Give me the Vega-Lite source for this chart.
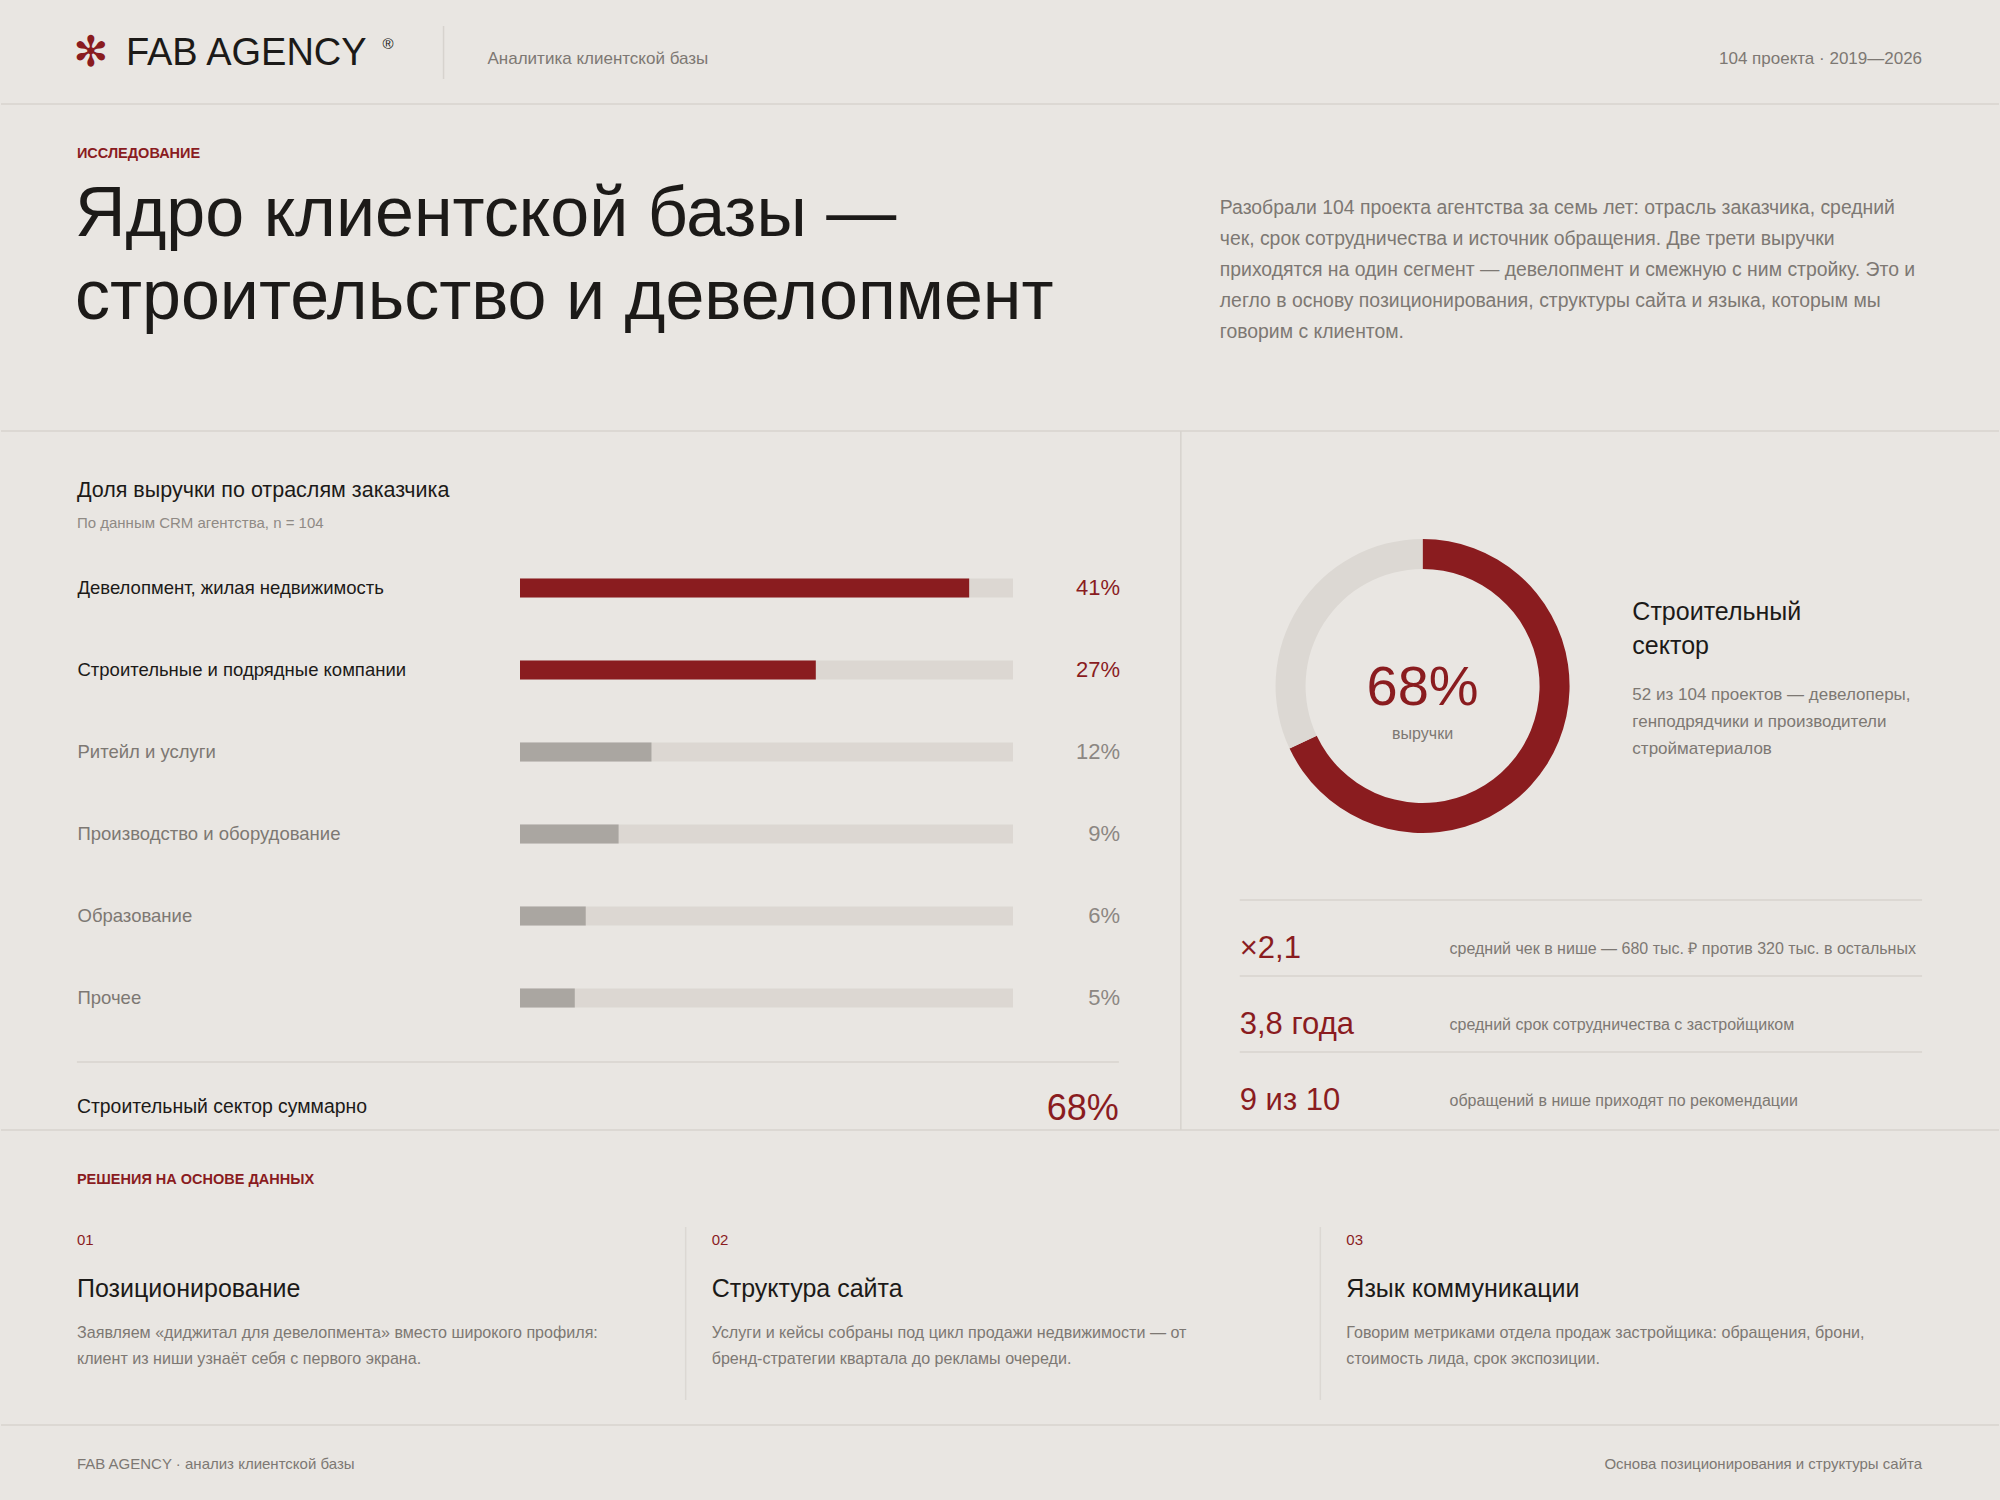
{
  "$schema": "https://vega.github.io/schema/vega-lite/v6.json",
  "width": 2000,
  "height": 1500,
  "autosize": {"type": "fit", "contains": "padding"},
  "padding": 0,
  "background": "#e9e6e2",
  "config": {
    "view": {"stroke": null},
    "font": "Liberation Sans",
    "text": {"font": "Liberation Sans"}
  },
  "resolve": {"scale": {"x": "independent", "y": "independent", "color": "independent", "theta": "independent"}},
  "layer": [
    {
      "layer": [
        {"data": {"values": [{"line": "header"}]}, "mark": {"type": "rule", "color": "#d7d3ce", "strokeWidth": 1.5},
         "encoding": {"x": {"datum": 0, "scale": {"domain": [0, 2000], "nice": false, "zero": false}, "axis": null}, "x2": {"datum": 2000}, "y": {"datum": 104, "scale": {"domain": [0, 1500], "nice": false, "zero": false, "reverse": true}, "axis": null}}},
        {"data": {"values": [{"line": "header divider"}]}, "mark": {"type": "rule", "color": "#d7d3ce", "strokeWidth": 1.5},
         "encoding": {"x": {"datum": 443, "axis": null}, "y": {"datum": 26, "axis": null}, "y2": {"datum": 79}}},
        {"data": {"values": [{"line": "intro"}]}, "mark": {"type": "rule", "color": "#d7d3ce", "strokeWidth": 1.5},
         "encoding": {"x": {"datum": 0, "axis": null}, "x2": {"datum": 2000}, "y": {"datum": 431, "axis": null}}},
        {"data": {"values": [{"line": "middle divider"}]}, "mark": {"type": "rule", "color": "#d7d3ce", "strokeWidth": 1.5},
         "encoding": {"x": {"datum": 1181, "axis": null}, "y": {"datum": 431, "axis": null}, "y2": {"datum": 1130}}},
        {"data": {"values": [{"line": "bars total"}]}, "mark": {"type": "rule", "color": "#d7d3ce", "strokeWidth": 1.5},
         "encoding": {"x": {"datum": 76, "axis": null}, "x2": {"datum": 1119}, "y": {"datum": 1062, "axis": null}}},
        {"data": {"values": [{"line": "middle bottom"}]}, "mark": {"type": "rule", "color": "#d7d3ce", "strokeWidth": 1.5},
         "encoding": {"x": {"datum": 0, "axis": null}, "x2": {"datum": 2000}, "y": {"datum": 1130, "axis": null}}},
        {"data": {"values": [{"line": "footer"}]}, "mark": {"type": "rule", "color": "#d7d3ce", "strokeWidth": 1.5},
         "encoding": {"x": {"datum": 0, "axis": null}, "x2": {"datum": 2000}, "y": {"datum": 1425, "axis": null}}},

        {"data": {"values": [{"t": "✻"}]}, "mark": {"type": "text", "align": "center", "baseline": "middle", "fontSize": 42, "font": "DejaVu Sans", "color": "#8a1c1f"},
         "encoding": {"text": {"field": "t"}, "x": {"datum": 90, "axis": null}, "y": {"datum": 53, "axis": null}}},
        {"data": {"values": [{"t": "FAB AGENCY"}]}, "mark": {"type": "text", "align": "left", "baseline": "alphabetic", "fontSize": 38, "color": "#1c1a18"},
         "encoding": {"text": {"field": "t"}, "x": {"datum": 125, "axis": null}, "y": {"datum": 65, "axis": null}}},
        {"data": {"values": [{"t": "®"}]}, "mark": {"type": "text", "align": "left", "baseline": "alphabetic", "fontSize": 15, "color": "#1c1a18"},
         "encoding": {"text": {"field": "t"}, "x": {"datum": 382, "axis": null}, "y": {"datum": 49, "axis": null}}},
        {"data": {"values": [{"t": "Аналитика клиентской базы"}]}, "mark": {"type": "text", "align": "left", "baseline": "alphabetic", "fontSize": 17, "color": "#7d7873"},
         "encoding": {"text": {"field": "t"}, "x": {"datum": 487, "axis": null}, "y": {"datum": 64, "axis": null}}},
        {"data": {"values": [{"t": "104 проекта · 2019—2026"}]}, "mark": {"type": "text", "align": "right", "baseline": "alphabetic", "fontSize": 17, "color": "#7d7873"},
         "encoding": {"text": {"field": "t"}, "x": {"datum": 1923, "axis": null}, "y": {"datum": 64, "axis": null}}},

        {"data": {"values": [{"t": "ИССЛЕДОВАНИЕ"}]}, "mark": {"type": "text", "align": "left", "baseline": "alphabetic", "fontSize": 14.5, "fontWeight": "bold", "color": "#8a1c1f"},
         "encoding": {"text": {"field": "t"}, "x": {"datum": 76, "axis": null}, "y": {"datum": 158, "axis": null}}},
        {"data": {"values": [{"t": "Ядро клиентской базы —\nстроительство и девелопмент"}]}, "mark": {"type": "text", "align": "left", "baseline": "alphabetic", "fontSize": 70, "lineHeight": 83, "lineBreak": "\n", "color": "#1c1a18"},
         "encoding": {"text": {"field": "t"}, "x": {"datum": 74, "axis": null}, "y": {"datum": 236, "axis": null}}},
        {"data": {"values": [{"t": "Разобрали 104 проекта агентства за семь лет: отрасль заказчика, средний\nчек, срок сотрудничества и источник обращения. Две трети выручки\nприходятся на один сегмент — девелопмент и смежную с ним стройку. Это и\nлегло в основу позиционирования, структуры сайта и языка, которым мы\nговорим с клиентом."}]},
         "mark": {"type": "text", "align": "left", "baseline": "alphabetic", "fontSize": 19.4, "lineHeight": 31, "lineBreak": "\n", "color": "#7d7873"},
         "encoding": {"text": {"field": "t"}, "x": {"datum": 1220, "axis": null}, "y": {"datum": 214, "axis": null}}},

        {"data": {"values": [{"t": "Доля выручки по отраслям заказчика"}]}, "mark": {"type": "text", "align": "left", "baseline": "alphabetic", "fontSize": 21.5, "color": "#1c1a18"},
         "encoding": {"text": {"field": "t"}, "x": {"datum": 76, "axis": null}, "y": {"datum": 497, "axis": null}}},
        {"data": {"values": [{"t": "По данным CRM агентства, n = 104"}]}, "mark": {"type": "text", "align": "left", "baseline": "alphabetic", "fontSize": 15, "color": "#8f8a85"},
         "encoding": {"text": {"field": "t"}, "x": {"datum": 76, "axis": null}, "y": {"datum": 528, "axis": null}}},
        {"data": {"values": [{"t": "Строительный сектор суммарно"}]}, "mark": {"type": "text", "align": "left", "baseline": "alphabetic", "fontSize": 19.4, "color": "#1c1a18"},
         "encoding": {"text": {"field": "t"}, "x": {"datum": 76, "axis": null}, "y": {"datum": 1113, "axis": null}}},
        {"data": {"values": [{"t": "68%"}]}, "mark": {"type": "text", "align": "right", "baseline": "alphabetic", "fontSize": 36, "color": "#8a1c1f"},
         "encoding": {"text": {"field": "t"}, "x": {"datum": 1119, "axis": null}, "y": {"datum": 1120, "axis": null}}},

        {"data": {"values": [{"part": "Строительный сектор", "share": 68}, {"part": "Остальные отрасли", "share": 32}]},
         "mark": {"type": "arc", "radius": 147, "radius2": 117, "stroke": null},
         "encoding": {
           "theta": {"field": "share", "type": "quantitative", "stack": true},
           "order": {"field": "share", "sort": "descending"},
           "color": {"field": "part", "type": "nominal", "scale": {"domain": ["Строительный сектор", "Остальные отрасли"], "range": ["#8a1c1f", "#dcd8d3"]}, "legend": null},
           "x": {"datum": 1423, "axis": null}, "y": {"datum": 686, "axis": null}}},
        {"data": {"values": [{"t": "68%"}]}, "mark": {"type": "text", "align": "center", "baseline": "alphabetic", "fontSize": 56, "color": "#8a1c1f"},
         "encoding": {"text": {"field": "t"}, "x": {"datum": 1423, "axis": null}, "y": {"datum": 705, "axis": null}}},
        {"data": {"values": [{"t": "выручки"}]}, "mark": {"type": "text", "align": "center", "baseline": "alphabetic", "fontSize": 16, "color": "#7d7873"},
         "encoding": {"text": {"field": "t"}, "x": {"datum": 1423, "axis": null}, "y": {"datum": 739, "axis": null}}},
        {"data": {"values": [{"t": "Строительный\nсектор"}]}, "mark": {"type": "text", "align": "left", "baseline": "alphabetic", "fontSize": 25, "lineHeight": 34, "lineBreak": "\n", "color": "#1c1a18"},
         "encoding": {"text": {"field": "t"}, "x": {"datum": 1633, "axis": null}, "y": {"datum": 620, "axis": null}}},
        {"data": {"values": [{"t": "52 из 104 проектов — девелоперы,\nгенподрядчики и производители\nстройматериалов"}]}, "mark": {"type": "text", "align": "left", "baseline": "alphabetic", "fontSize": 17, "lineHeight": 27, "lineBreak": "\n", "color": "#7d7873"},
         "encoding": {"text": {"field": "t"}, "x": {"datum": 1633, "axis": null}, "y": {"datum": 700, "axis": null}}},

        {"data": {"values": [{"t": "РЕШЕНИЯ НА ОСНОВЕ ДАННЫХ"}]}, "mark": {"type": "text", "align": "left", "baseline": "alphabetic", "fontSize": 14.5, "fontWeight": "bold", "color": "#8a1c1f"},
         "encoding": {"text": {"field": "t"}, "x": {"datum": 76, "axis": null}, "y": {"datum": 1184, "axis": null}}},
        {"data": {"values": [{"t": "FAB AGENCY · анализ клиентской базы"}]}, "mark": {"type": "text", "align": "left", "baseline": "alphabetic", "fontSize": 15, "color": "#7d7873"},
         "encoding": {"text": {"field": "t"}, "x": {"datum": 76, "axis": null}, "y": {"datum": 1469, "axis": null}}},
        {"data": {"values": [{"t": "Основа позиционирования и структуры сайта"}]}, "mark": {"type": "text", "align": "right", "baseline": "alphabetic", "fontSize": 15, "color": "#7d7873"},
         "encoding": {"text": {"field": "t"}, "x": {"datum": 1923, "axis": null}, "y": {"datum": 1469, "axis": null}}}
      ]
    },
    {
      "data": {"values": [
        {"industry": "Девелопмент, жилая недвижимость", "share": 0.41, "segment": "Строительный сектор"},
        {"industry": "Строительные и подрядные компании", "share": 0.27, "segment": "Строительный сектор"},
        {"industry": "Ритейл и услуги", "share": 0.12, "segment": "Другие отрасли"},
        {"industry": "Производство и оборудование", "share": 0.09, "segment": "Другие отрасли"},
        {"industry": "Образование", "share": 0.06, "segment": "Другие отрасли"},
        {"industry": "Прочее", "share": 0.05, "segment": "Другие отрасли"}
      ]},
      "layer": [
        {"mark": {"type": "bar", "size": 19, "color": "#dcd7d2"},
         "encoding": {
           "y": {"field": "industry", "type": "nominal", "sort": null,
                 "scale": {"range": [547, 1039], "paddingInner": 0, "paddingOuter": 0},
                 "axis": {"orient": "left", "offset": -76, "domain": false, "ticks": false, "tickSize": 0, "grid": false, "title": null,
                          "labelPadding": 0, "labelAlign": "left", "labelBaseline": "middle", "labelFontSize": 18.5, "labelFont": "Liberation Sans", "labelLimit": 0, "minExtent": 0,
                          "labelColor": {"condition": {"test": "datum.value === 'Девелопмент, жилая недвижимость' || datum.value === 'Строительные и подрядные компании'", "value": "#1c1a18"}, "value": "#7d7873"}}},
           "x": {"datum": 0, "type": "quantitative", "scale": {"domain": [0, 0.45], "range": [519, 1012], "nice": false, "zero": false}, "axis": null},
           "x2": {"datum": 0.45}}},
        {"mark": {"type": "bar", "size": 19},
         "encoding": {
           "y": {"field": "industry", "type": "nominal", "sort": null},
           "x": {"field": "share", "type": "quantitative", "axis": null},
           "x2": {"datum": 0},
           "color": {"field": "segment", "type": "nominal", "scale": {"domain": ["Строительный сектор", "Другие отрасли"], "range": ["#8a1c1f", "#aaa6a1"]}, "legend": null}}},
        {"mark": {"type": "text", "align": "right", "baseline": "middle", "dx": 107, "fontSize": 22},
         "encoding": {
           "y": {"field": "industry", "type": "nominal", "sort": null},
           "x": {"datum": 0.45, "axis": null},
           "text": {"field": "share", "type": "quantitative", "format": ".0%"},
           "color": {"condition": {"test": "datum.segment === 'Строительный сектор'", "value": "#8a1c1f"}, "value": "#8c8782"}}}
      ]
    },
    {
      "data": {"values": [
        {"metric": "×2,1", "desc": "средний чек в нише — 680 тыс. ₽ против 320 тыс. в остальных"},
        {"metric": "3,8 года", "desc": "средний срок сотрудничества с застройщиком"},
        {"metric": "9 из 10", "desc": "обращений в нише приходят по рекомендации"}
      ]},
      "layer": [
        {"mark": {"type": "rule", "color": "#d7d3ce", "strokeWidth": 1.5},
         "encoding": {
           "y": {"field": "metric", "type": "nominal", "sort": null, "bandPosition": 0, "scale": {"range": [900, 1128], "paddingInner": 0, "paddingOuter": 0}, "axis": null},
           "x": {"datum": 1240, "scale": {"domain": [0, 2000], "nice": false, "zero": false}, "axis": null},
           "x2": {"datum": 1923}}},
        {"mark": {"type": "text", "align": "left", "baseline": "middle", "dy": 11, "fontSize": 31, "color": "#8a1c1f"},
         "encoding": {
           "y": {"field": "metric", "type": "nominal", "sort": null, "axis": null},
           "x": {"datum": 1240, "axis": null},
           "text": {"field": "metric"}}},
        {"mark": {"type": "text", "align": "left", "baseline": "middle", "dy": 11, "fontSize": 16, "color": "#7d7873"},
         "encoding": {
           "y": {"field": "metric", "type": "nominal", "sort": null, "axis": null},
           "x": {"datum": 1450, "axis": null},
           "text": {"field": "desc"}}}
      ]
    },
    {
      "data": {"values": [
        {"num": "01", "title": "Позиционирование", "body": "Заявляем «диджитал для девелопмента» вместо широкого профиля:\nклиент из ниши узнаёт себя с первого экрана."},
        {"num": "02", "title": "Структура сайта", "body": "Услуги и кейсы собраны под цикл продажи недвижимости — от\nбренд-стратегии квартала до рекламы очереди."},
        {"num": "03", "title": "Язык коммуникации", "body": "Говорим метриками отдела продаж застройщика: обращения, брони,\nстоимость лида, срок экспозиции."}
      ]},
      "layer": [
        {"transform": [{"filter": "datum.num !== '01'"}],
         "mark": {"type": "rule", "color": "#dcd8d3", "strokeWidth": 1.5, "xOffset": -26},
         "encoding": {
           "x": {"field": "num", "type": "nominal", "sort": null, "bandPosition": 0, "scale": {"domain": ["01", "02", "03"], "range": [76, 1980], "paddingInner": 0, "paddingOuter": 0}, "axis": null},
           "y": {"datum": 1227, "scale": {"domain": [0, 1500], "nice": false, "zero": false, "reverse": true}, "axis": null},
           "y2": {"datum": 1400}}},
        {"mark": {"type": "text", "align": "left", "baseline": "alphabetic", "fontSize": 15, "color": "#8a1c1f"},
         "encoding": {
           "x": {"field": "num", "type": "nominal", "sort": null, "bandPosition": 0, "axis": null},
           "y": {"datum": 1245, "axis": null},
           "text": {"field": "num"}}},
        {"mark": {"type": "text", "align": "left", "baseline": "alphabetic", "fontSize": 25, "color": "#1c1a18"},
         "encoding": {
           "x": {"field": "num", "type": "nominal", "sort": null, "bandPosition": 0, "axis": null},
           "y": {"datum": 1297, "axis": null},
           "text": {"field": "title"}}},
        {"mark": {"type": "text", "align": "left", "baseline": "alphabetic", "fontSize": 16.1, "lineHeight": 25.5, "lineBreak": "\n", "color": "#7d7873"},
         "encoding": {
           "x": {"field": "num", "type": "nominal", "sort": null, "bandPosition": 0, "axis": null},
           "y": {"datum": 1338, "axis": null},
           "text": {"field": "body"}}}
      ]
    }
  ]
}
